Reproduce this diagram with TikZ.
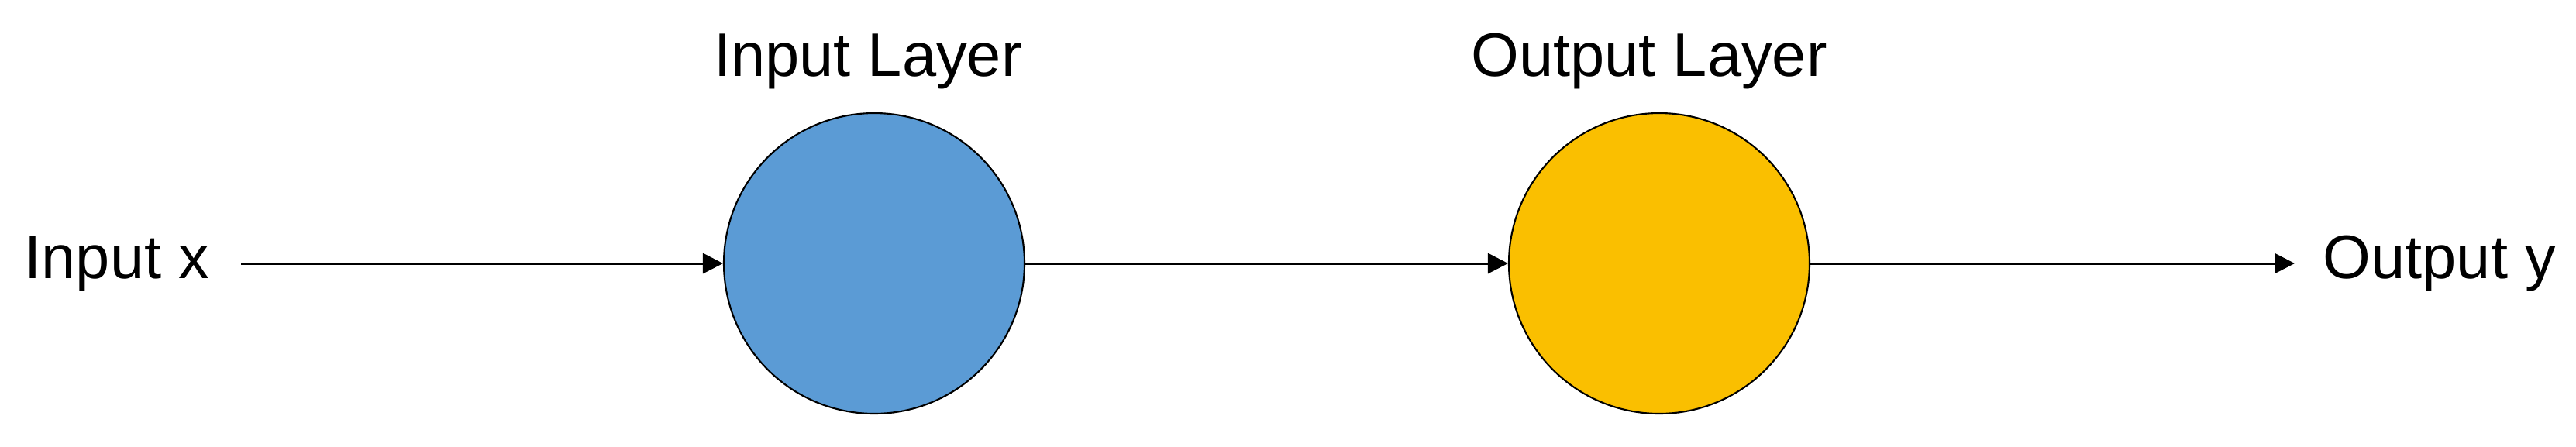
\documentclass[tikz,border=0pt]{standalone}
\usepackage{fontspec}
\setmainfont{Liberation Sans}
\usetikzlibrary{arrows.meta}
\definecolor{layerblue}{HTML}{5B9BD5}
\definecolor{layergold}{HTML}{FABF00}
\begin{document}
\begin{tikzpicture}[
  every node/.style={font=\fontsize{22.6pt}{27pt}\selectfont},
  layer/.style={circle, draw=black, line width=0.6pt, minimum size=3.88cm, inner sep=0pt},
  lbl/.style={inner sep=0pt, anchor=base},
  arr/.style={-{Triangle[length=0.26cm,width=0.26cm]}, line width=0.85pt}
]
\useasboundingbox (0,0) rectangle (33.24,5.76);
\node[layer, fill=layerblue] (L1) at (11.28,2.36) {};
\node[layer, fill=layergold] (L2) at (21.41,2.36) {};
\node[lbl] (t1) at (11.20,4.78) {Input Layer};
\node[lbl] (t2) at (21.28,4.78) {Output Layer};
\node[anchor=west, inner xsep=0.4cm, inner ysep=0pt] (inx) at (-0.09,2.36) {Input x};
\node[anchor=west, inner xsep=0.36cm, inner ysep=0pt] (outy) at (29.61,2.36) {Output y};
\draw[arr] (inx) -- (L1);
\draw[arr] (L1) -- (L2);
\draw[arr] (L2) -- (outy);
\end{tikzpicture}
\end{document}
